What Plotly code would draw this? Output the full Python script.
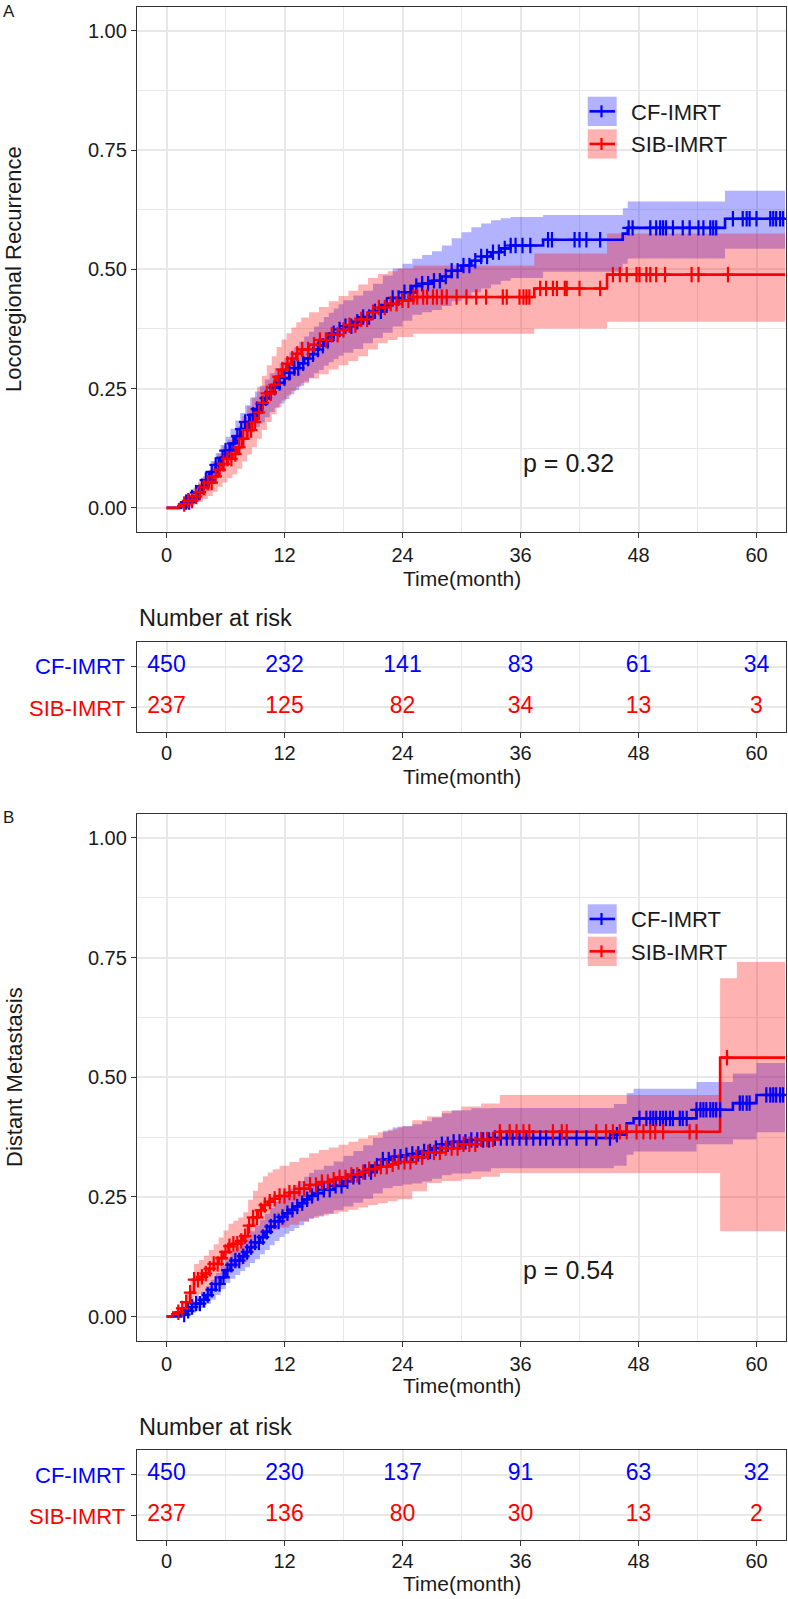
import numpy as np
import plotly.graph_objects as go

W, H = 788, 1599
FONT = "Liberation Sans, Arial, sans-serif"
BLUE = "#0000FF"
RED = "#FF0000"
BLUE_FILL = "rgba(0,0,255,0.30)"
RED_FILL = "rgba(255,0,0,0.30)"
GRID = "#E8E8E8"
T_END = 62.9

groups = ["CF-IMRT", "SIB-IMRT"]
x_ticks = [0, 12, 24, 36, 48, 60]
y_ticks = [0, 0.25, 0.5, 0.75, 1.0]
y_ticktext = ["0.00", "0.25", "0.50", "0.75", "1.00"]

# ---------------- Panel A: Locoregional Recurrence ----------------
a_cf_t = [0, 1.5, 2, 2.5, 3, 3.5, 4, 4.5, 5, 5.5, 6, 6.5, 7, 7.5, 8, 8.5, 9, 9.5, 10, 10.5,
          11, 11.5, 12, 12.5, 13, 13.5, 14, 14.5, 15, 15.5, 16, 16.5, 17, 17.5, 18, 19, 20,
          21, 22, 23, 24, 25, 26, 27, 28, 29, 30, 31, 32, 33, 34, 35, 38.3, 46.4, 46.9, 56.8]
a_cf_est = [0, 0.005, 0.012, 0.022, 0.032, 0.045, 0.058, 0.075, 0.09, 0.105, 0.12, 0.135, 0.15,
            0.165, 0.18, 0.195, 0.207, 0.218, 0.23, 0.242, 0.252, 0.262, 0.272, 0.283, 0.293,
            0.303, 0.313, 0.322, 0.332, 0.34, 0.35, 0.358, 0.366, 0.374, 0.381, 0.39, 0.40,
            0.412, 0.425, 0.44, 0.452, 0.465, 0.47, 0.476, 0.485, 0.497, 0.508, 0.518, 0.527,
            0.536, 0.544, 0.55, 0.562, 0.575, 0.587, 0.606]
a_cf_lo = [0, 0, 0.003, 0.008, 0.015, 0.025, 0.035, 0.05, 0.063, 0.076, 0.089, 0.103, 0.116,
           0.13, 0.144, 0.158, 0.169, 0.179, 0.19, 0.201, 0.21, 0.219, 0.228, 0.238, 0.247,
           0.256, 0.265, 0.273, 0.282, 0.289, 0.298, 0.305, 0.312, 0.319, 0.325, 0.333, 0.345,
           0.356, 0.367, 0.38, 0.392, 0.405, 0.41, 0.415, 0.423, 0.433, 0.443, 0.452, 0.46,
           0.468, 0.476, 0.482, 0.495, 0.512, 0.523, 0.543]
a_cf_hi = [0, 0.012, 0.022, 0.035, 0.048, 0.063, 0.079, 0.098, 0.115, 0.132, 0.149, 0.166,
           0.183, 0.199, 0.215, 0.231, 0.244, 0.256, 0.269, 0.282, 0.293, 0.303, 0.314, 0.326,
           0.337, 0.348, 0.359, 0.369, 0.38, 0.389, 0.4, 0.409, 0.418, 0.427, 0.435, 0.445,
           0.455, 0.47, 0.487, 0.502, 0.512, 0.522, 0.53, 0.538, 0.55, 0.565, 0.578, 0.588,
           0.596, 0.603, 0.607, 0.61, 0.614, 0.628, 0.642, 0.665]

a_sib_t = [0, 1.2, 1.7, 2.2, 2.7, 3.2, 3.7, 4.2, 4.7, 5.2, 5.7, 6.2, 6.7, 7.2, 7.7, 8.2, 8.7,
           9.2, 9.7, 10.2, 10.7, 11.2, 11.7, 12.2, 12.7, 13.2, 13.7, 14.5, 15.5, 16.5, 17.5,
           18.5, 19.5, 20.5, 21.5, 22.5, 23.5, 25.1, 37.4, 44.8]
a_sib_est = [0, 0.004, 0.008, 0.015, 0.024, 0.033, 0.043, 0.053, 0.066, 0.08, 0.092, 0.103,
             0.113, 0.127, 0.145, 0.163, 0.18, 0.2, 0.22, 0.24, 0.258, 0.275, 0.29, 0.302,
             0.313, 0.323, 0.332, 0.342, 0.352, 0.363, 0.373, 0.383, 0.395, 0.41, 0.42, 0.428,
             0.435, 0.442, 0.46, 0.489]
a_sib_lo = [0, 0, 0, 0.003, 0.007, 0.012, 0.018, 0.025, 0.034, 0.044, 0.053, 0.062, 0.07,
            0.082, 0.097, 0.112, 0.127, 0.145, 0.163, 0.18, 0.196, 0.211, 0.225, 0.235, 0.245,
            0.254, 0.262, 0.271, 0.28, 0.29, 0.299, 0.308, 0.318, 0.332, 0.345, 0.352, 0.358,
            0.365, 0.376, 0.39]
a_sib_hi = [0, 0.012, 0.02, 0.03, 0.042, 0.054, 0.067, 0.08, 0.097, 0.114, 0.129, 0.143,
            0.155, 0.171, 0.192, 0.213, 0.232, 0.254, 0.277, 0.299, 0.318, 0.337, 0.353, 0.366,
            0.378, 0.389, 0.399, 0.41, 0.421, 0.433, 0.444, 0.455, 0.468, 0.482, 0.49, 0.496,
            0.502, 0.508, 0.533, 0.575]

a_cf_cens = [2.0, 2.3, 2.6, 3.0, 3.3, 3.6, 4.0, 4.3, 4.6, 5.0, 5.3, 5.7, 6.0, 6.4, 6.8, 7.2,
             7.6, 8.0, 8.4, 8.8, 9.2, 9.7, 10.1, 10.6, 11.0, 11.5, 12.0, 12.5, 13.0, 13.4, 13.9,
             14.4, 14.9, 15.4, 15.9, 16.4, 17.0, 17.6, 18.2, 18.8, 19.4, 20.0, 20.6, 21.2, 21.8,
             22.4, 23.0, 23.6, 24.2, 24.8, 25.4, 26.0, 26.6, 27.2, 27.8, 28.4, 29.0, 29.6, 30.2,
             30.8, 31.4, 32.0, 32.6, 33.2, 33.8, 34.4, 35.0, 35.5, 36.2, 37.0, 38.8, 39.2, 41.5,
             42.0, 42.7, 44.1, 47.0, 47.4, 49.2, 49.8, 50.2, 50.5, 50.8, 51.5, 52.5, 53.2, 54.1,
             54.6, 55.3, 55.6, 55.9, 57.6, 58.6, 59.0, 59.3, 60.0, 61.4, 61.7, 62.0, 62.4, 62.7]
a_sib_cens = [1.8, 2.2, 2.6, 3.0, 3.4, 3.8, 4.2, 4.6, 5.0, 5.4, 5.8, 6.2, 6.6, 7.0, 7.4, 7.8,
              8.2, 8.6, 9.0, 9.4, 9.8, 10.2, 10.6, 11.0, 11.4, 11.8, 12.3, 12.8, 13.3, 13.8,
              14.4, 15.0, 15.6, 16.2, 16.8, 17.4, 18.0, 18.6, 19.2, 19.8, 20.4, 21.0, 21.6, 22.2,
              22.8, 23.4, 24.0, 24.6, 25.1, 25.5, 26.1, 26.5, 27.1, 27.5, 28.0, 28.5, 29.5, 30.5,
              31.5, 32.5, 34.2, 34.6, 35.9, 36.3, 36.6, 36.9, 38.0, 38.6, 39.3, 39.7, 40.5, 40.7,
              42.0, 44.1, 45.4, 46.1, 46.8, 47.8, 48.1, 48.8, 49.2, 49.8, 50.7, 53.4, 54.1, 57.1]

a_risk_cf = [450, 232, 141, 83, 61, 34]
a_risk_sib = [237, 125, 82, 34, 13, 3]
a_pval = "p = 0.32"

# ---------------- Panel B: Distant Metastasis ----------------
b_cf_t = [0, 1.5, 2, 2.5, 3, 3.5, 4, 4.5, 5, 5.5, 6, 6.5, 7, 7.5, 8, 8.5, 9, 9.5, 10, 10.5,
          11, 11.5, 12, 12.5, 13, 13.5, 14, 14.5, 15, 16, 17, 18, 19, 20, 21, 22, 23, 24, 25,
          26, 27, 28, 29, 31, 33, 45.5, 46.8, 47.5, 53.9, 57.6, 60]
b_cf_est = [0, 0.004, 0.012, 0.02, 0.027, 0.035, 0.045, 0.056, 0.068, 0.082, 0.097, 0.108,
            0.117, 0.126, 0.135, 0.145, 0.155, 0.166, 0.177, 0.188, 0.199, 0.208, 0.216, 0.223,
            0.23, 0.237, 0.245, 0.252, 0.258, 0.265, 0.273, 0.283, 0.292, 0.302, 0.315, 0.328,
            0.334, 0.337, 0.34, 0.345, 0.352, 0.36, 0.365, 0.369, 0.373, 0.38, 0.404, 0.414,
            0.432, 0.446, 0.463]
b_cf_lo = [0, 0, 0.003, 0.008, 0.012, 0.018, 0.026, 0.035, 0.045, 0.057, 0.07, 0.079, 0.087,
           0.095, 0.103, 0.112, 0.12, 0.13, 0.139, 0.149, 0.158, 0.166, 0.173, 0.179, 0.185,
           0.191, 0.198, 0.204, 0.209, 0.215, 0.222, 0.23, 0.238, 0.246, 0.257, 0.268, 0.273,
           0.276, 0.278, 0.282, 0.288, 0.295, 0.299, 0.303, 0.31, 0.315, 0.338, 0.345, 0.36,
           0.37, 0.385]
b_cf_hi = [0, 0.01, 0.021, 0.032, 0.042, 0.052, 0.064, 0.077, 0.091, 0.107, 0.124, 0.137,
           0.147, 0.157, 0.167, 0.178, 0.19, 0.202, 0.215, 0.227, 0.24, 0.25, 0.259, 0.267,
           0.275, 0.283, 0.292, 0.3, 0.307, 0.315, 0.324, 0.336, 0.346, 0.358, 0.373, 0.388,
           0.395, 0.398, 0.402, 0.408, 0.416, 0.425, 0.431, 0.435, 0.436, 0.444, 0.467, 0.476,
           0.49, 0.508, 0.53]

b_sib_t = [0, 0.6, 1, 1.5, 2, 2.4, 2.8, 3.3, 3.8, 4.3, 4.8, 5.3, 5.8, 6.3, 6.8, 7.3, 7.8, 8.3,
           8.8, 9.3, 9.8, 10.3, 10.8, 11.5, 12.5, 13.5, 14.5, 15.5, 16.5, 17.5, 18.5, 19.5,
           20.5, 21.5, 22.5, 23.5, 25, 26.5, 28, 30, 32, 33.9, 56.3, 58]
b_sib_est = [0, 0.005, 0.009, 0.017, 0.03, 0.05, 0.077, 0.083, 0.09, 0.1, 0.11, 0.122, 0.135,
             0.147, 0.152, 0.158, 0.168, 0.19, 0.207, 0.222, 0.233, 0.24, 0.246, 0.252, 0.259,
             0.267, 0.275, 0.281, 0.286, 0.291, 0.296, 0.302, 0.308, 0.313, 0.318, 0.323,
             0.333, 0.343, 0.352, 0.36, 0.37, 0.386, 0.541, 0.541]
b_sib_lo = [0, 0, 0, 0.003, 0.009, 0.022, 0.042, 0.046, 0.051, 0.059, 0.067, 0.077, 0.088,
            0.098, 0.102, 0.107, 0.115, 0.134, 0.148, 0.161, 0.17, 0.176, 0.181, 0.186, 0.192,
            0.199, 0.206, 0.211, 0.215, 0.219, 0.223, 0.228, 0.233, 0.237, 0.241, 0.245, 0.262,
            0.279, 0.283, 0.287, 0.292, 0.3, 0.178, 0.178]
b_sib_hi = [0, 0.012, 0.02, 0.032, 0.05, 0.077, 0.11, 0.118, 0.127, 0.139, 0.151, 0.165,
            0.18, 0.194, 0.2, 0.207, 0.218, 0.244, 0.263, 0.28, 0.293, 0.301, 0.308, 0.315,
            0.323, 0.332, 0.341, 0.348, 0.353, 0.359, 0.365, 0.372, 0.379, 0.385, 0.391, 0.397,
            0.41, 0.418, 0.43, 0.439, 0.445, 0.463, 0.707, 0.741]

b_cf_cens = [1.8, 2.2, 2.6, 3.0, 3.4, 3.8, 4.2, 4.6, 5.0, 5.4, 5.8, 6.2, 6.6, 7.0, 7.4, 7.8,
             8.2, 8.6, 9.0, 9.4, 9.8, 10.2, 10.6, 11.0, 11.4, 11.8, 12.3, 12.8, 13.3, 13.8, 14.3,
             14.8, 15.4, 16.0, 16.6, 17.2, 17.8, 18.4, 19.0, 19.6, 20.2, 20.8, 21.4, 22.0, 22.6,
             23.2, 23.8, 24.4, 25.0, 25.6, 26.2, 26.8, 27.4, 28.0, 28.6, 29.2, 29.8, 30.4, 31.0,
             31.6, 32.2, 32.8, 33.4, 34.0, 34.6, 35.2, 35.9, 36.6, 37.3, 38.0, 38.6, 39.3, 40.0,
             40.7, 41.7, 42.7, 43.7, 45.1, 45.8, 48.1, 48.8, 49.2, 49.5, 49.8, 50.2, 50.5, 50.8,
             51.2, 51.5, 52.2, 52.5, 52.9, 53.9, 54.3, 54.6, 54.9, 55.3, 55.6, 55.9, 56.3, 58.3,
             58.6, 59.0, 59.3, 61.0, 61.4, 61.7, 62.0, 62.4, 62.7]
b_sib_cens = [1.2, 1.6, 2.0, 2.4, 2.8, 3.2, 3.6, 4.0, 4.4, 4.8, 5.2, 5.6, 6.0, 6.4, 6.8, 7.2,
              7.6, 8.0, 8.4, 8.8, 9.2, 9.6, 10.0, 10.5, 11.0, 11.5, 12.0, 12.5, 13.0, 13.5, 14.0,
              14.6, 15.2, 15.8, 16.4, 17.0, 17.6, 18.2, 18.8, 19.4, 20.0, 20.6, 21.2, 21.8, 22.4,
              23.0, 23.6, 24.2, 24.8, 25.4, 26.0, 26.6, 27.2, 27.8, 28.4, 29.0, 29.6, 30.2, 30.8,
              31.4, 32.0, 32.6, 33.2, 33.9, 34.9, 35.6, 36.3, 36.9, 39.3, 40.2, 40.7, 43.7, 44.7,
              45.4, 46.1, 46.8, 47.8, 48.5, 49.2, 49.7, 50.5, 53.2, 53.9, 57.0]

b_risk_cf = [450, 230, 137, 91, 63, 32]
b_risk_sib = [237, 136, 80, 30, 13, 2]
b_pval = "p = 0.54"


# ---------------- helpers ----------------
def pxx(x):
    return x / W


def pxy(y):
    return 1 - y / H


def ext(arr, t_arr):
    return list(t_arr) + [T_END], list(arr) + [arr[-1]]


def step_at(t_arr, v_arr, times):
    idx = np.searchsorted(np.array(t_arr), np.array(times), side="right") - 1
    return [v_arr[i] for i in idx]


fig = go.Figure()


def add_band(xa, ya, t, lo, hi, fill):
    tx, lo_e = ext(lo, t)
    _, hi_e = ext(hi, t)
    fig.add_trace(go.Scatter(x=tx, y=lo_e, mode="lines", line=dict(width=0, shape="hv"),
                             xaxis=xa, yaxis=ya, showlegend=False, hoverinfo="skip"))
    fig.add_trace(go.Scatter(x=tx, y=hi_e, mode="lines", line=dict(width=0, shape="hv"),
                             fill="tonexty", fillcolor=fill, xaxis=xa, yaxis=ya,
                             showlegend=False, hoverinfo="skip"))


def add_line(xa, ya, t, est, color):
    tx, ee = ext(est, t)
    fig.add_trace(go.Scatter(x=tx, y=ee, mode="lines",
                             line=dict(width=2.6, color=color, shape="hv"),
                             xaxis=xa, yaxis=ya, showlegend=False))


def add_cens(xa, ya, t, est, cens, color):
    yy = step_at(t, est, cens)
    for sym, size in (("line-ns", 11), ("line-ew", 9)):
        fig.add_trace(go.Scatter(x=cens, y=yy, mode="markers",
                                 marker=dict(symbol=sym, size=size, color=color,
                                             line=dict(width=2.2, color=color)),
                                 xaxis=xa, yaxis=ya, showlegend=False))


panels = [
    dict(xa="x", ya="y", cf=(a_cf_t, a_cf_est, a_cf_lo, a_cf_hi, a_cf_cens),
         sib=(a_sib_t, a_sib_est, a_sib_lo, a_sib_hi, a_sib_cens)),
    dict(xa="x3", ya="y3", cf=(b_cf_t, b_cf_est, b_cf_lo, b_cf_hi, b_cf_cens),
         sib=(b_sib_t, b_sib_est, b_sib_lo, b_sib_hi, b_sib_cens)),
]
for p in panels:
    t, e, l, h, c = p["cf"]
    add_band(p["xa"], p["ya"], t, l, h, BLUE_FILL)
    t, e, l, h, c = p["sib"]
    add_band(p["xa"], p["ya"], t, l, h, RED_FILL)
    add_line(p["xa"], p["ya"], p["cf"][0], p["cf"][1], BLUE)
    add_line(p["xa"], p["ya"], p["sib"][0], p["sib"][1], RED)
    for key, col in (("cf", BLUE), ("sib", RED)):
        t, e, l, h, c = p[key]
        add_cens(p["xa"], p["ya"], t, e, c, col)

# risk tables
for xa, ya, cfv, sibv in (("x2", "y2", a_risk_cf, a_risk_sib), ("x4", "y4", b_risk_cf, b_risk_sib)):
    fig.add_trace(go.Scatter(x=x_ticks, y=[2] * 6, mode="text", text=[str(v) for v in cfv],
                             textfont=dict(size=23, color=BLUE, family=FONT),
                             xaxis=xa, yaxis=ya, showlegend=False))
    fig.add_trace(go.Scatter(x=x_ticks, y=[1] * 6, mode="text", text=[str(v) for v in sibv],
                             textfont=dict(size=23, color=RED, family=FONT),
                             xaxis=xa, yaxis=ya, showlegend=False))

# ---------------- layout ----------------
L, R = 137, 786
areas = {
    "1": (7, 531.7),
    "2": (642.3, 731.7),
    "3": (814, 1340.5),
    "4": (1450, 1540),
}
axis_common = dict(showline=True, mirror=True, linecolor="#333333", linewidth=1.3,
                   ticks="outside", ticklen=5, tickwidth=1.2, tickcolor="#333333",
                   zeroline=False, showgrid=True, gridcolor=GRID, gridwidth=1.5,
                   tickfont=dict(size=20, color="#1a1a1a", family=FONT))
layout = dict(width=W, height=H, margin=dict(l=0, r=0, t=0, b=0, autoexpand=False),
              plot_bgcolor="white", paper_bgcolor="white", showlegend=False,
              font=dict(family=FONT, color="#1a1a1a"), hovermode=False)
for k, (top, bot) in areas.items():
    xname = "xaxis" if k == "1" else "xaxis" + k
    yname = "yaxis" if k == "1" else "yaxis" + k
    layout[xname] = dict(axis_common, domain=[pxx(L), pxx(R)], range=[-3, 63],
                         tickvals=x_ticks, anchor="y" if k == "1" else "y" + k,
                         ticklabelstandoff=-2 if k in ("2", "4") else 0,
                         minor=dict(tickvals=[6, 18, 30, 42, 54], showgrid=True,
                                    gridcolor=GRID, gridwidth=0.8, ticks=""))
    if k in ("1", "3"):
        layout[yname] = dict(axis_common, domain=[pxy(bot), pxy(top)], range=[-0.05, 1.05],
                             tickvals=y_ticks, ticktext=y_ticktext,
                             anchor="x" if k == "1" else "x" + k,
                             minor=dict(tickvals=[0.125, 0.375, 0.625, 0.875], showgrid=True,
                                        gridcolor=GRID, gridwidth=0.8, ticks=""))
    else:
        layout[yname] = dict(axis_common, domain=[pxy(bot), pxy(top)], range=[0.4, 2.6],
                             tickvals=[1, 2], showticklabels=False, anchor="x" + k)
fig.update_layout(**layout)

ann = []


def text(x, y, s, size, color="#1a1a1a", xanchor="center", angle=0):
    ann.append(dict(x=pxx(x), y=pxy(y), xref="paper", yref="paper", text=s, showarrow=False,
                    xanchor=xanchor, yanchor="middle", textangle=angle,
                    font=dict(size=size, color=color, family=FONT)))


text(1, 12, "A", 17, xanchor="left")
text(1, 817, "B", 17, xanchor="left")
text(14, 269, "Locoregional Recurrence", 22, angle=-90)
text(14, 1077, "Distant Metastasis", 22, angle=-90)
for ytitle in (578, 776, 1385, 1583):
    text(461.5, ytitle, "Time(month)", 21)
text(137, 618.3, "Number at risk", 23.5, xanchor="left")
text(137, 1426.7, "Number at risk", 23.5, xanchor="left")
for yc, ys in ((666.7, 708.3), (1475, 1516.7)):
    text(127, yc, groups[0], 22, color=BLUE, xanchor="right")
    text(127, ys, groups[1], 22, color=RED, xanchor="right")

ann.append(dict(x=40.9, y=0.094, xref="x", yref="y", text=a_pval, showarrow=False,
                font=dict(size=25, color="#1a1a1a", family=FONT)))
ann.append(dict(x=40.9, y=0.0975, xref="x3", yref="y3", text=b_pval, showarrow=False,
                font=dict(size=25, color="#1a1a1a", family=FONT)))

# manual legends (ggplot style keys)
shapes = []
for (bg_top, bg_bot, k1, k2) in ((53, 170, 96.7, 129.3), (860, 978, 904.3, 936.7)):
    shapes.append(dict(type="rect", xref="paper", yref="paper", x0=pxx(577), x1=pxx(738),
                       y0=pxy(bg_bot), y1=pxy(bg_top), fillcolor="white", line=dict(width=0),
                       layer="below"))
    for ktop, fill, col, name in ((k1, BLUE_FILL, BLUE, groups[0]), (k2, RED_FILL, RED, groups[1])):
        kb = ktop + 29.3
        cy = (ktop + kb) / 2
        shapes.append(dict(type="rect", xref="paper", yref="paper", x0=pxx(587.7), x1=pxx(616.7),
                           y0=pxy(kb), y1=pxy(ktop), fillcolor=fill, line=dict(width=0)))
        shapes.append(dict(type="line", xref="paper", yref="paper", x0=pxx(589.5), x1=pxx(615),
                           y0=pxy(cy), y1=pxy(cy), line=dict(color=col, width=2.6)))
        shapes.append(dict(type="line", xref="paper", yref="paper", x0=pxx(601.5), x1=pxx(601.5),
                           y0=pxy(cy - 6), y1=pxy(cy + 6), line=dict(color=col, width=2.2)))
        text(629.3, cy + 1, name, 22, xanchor="left")

fig.update_layout(annotations=ann, shapes=shapes)
fig.write_html("out.html", config={"displayModeBar": False},
               post_script="document.body.style.margin='0';document.body.style.overflow='hidden';")
